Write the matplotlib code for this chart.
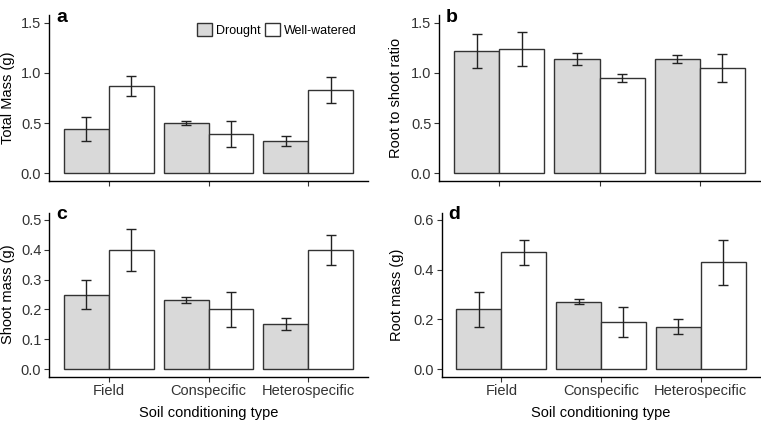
import numpy as np
import matplotlib
matplotlib.use("Agg")
import matplotlib.pyplot as plt
from matplotlib.patches import Patch

plt.rcParams['font.family'] = ['Liberation Sans', 'DejaVu Sans']

soil = ["Field", "Conspecific", "Heterospecific"]

# panel a: total mass
total_dr = [0.44, 0.50, 0.32]
total_dr_lo = [0.32, 0.48, 0.27]
total_dr_hi = [0.56, 0.52, 0.37]
total_ww = [0.87, 0.39, 0.83]
total_ww_lo = [0.77, 0.26, 0.70]
total_ww_hi = [0.97, 0.52, 0.96]

# panel b: root to shoot ratio
ratio_dr = [1.22, 1.14, 1.14]
ratio_dr_lo = [1.05, 1.08, 1.10]
ratio_dr_hi = [1.39, 1.20, 1.18]
ratio_ww = [1.24, 0.95, 1.05]
ratio_ww_lo = [1.07, 0.91, 0.91]
ratio_ww_hi = [1.41, 0.99, 1.19]

# panel c: shoot mass
shoot_dr = [0.25, 0.23, 0.15]
shoot_dr_lo = [0.20, 0.22, 0.13]
shoot_dr_hi = [0.30, 0.24, 0.17]
shoot_ww = [0.40, 0.20, 0.40]
shoot_ww_lo = [0.33, 0.14, 0.35]
shoot_ww_hi = [0.47, 0.26, 0.45]

# panel d: root mass
root_dr = [0.24, 0.27, 0.17]
root_dr_lo = [0.17, 0.26, 0.14]
root_dr_hi = [0.31, 0.28, 0.20]
root_ww = [0.47, 0.19, 0.43]
root_ww_lo = [0.42, 0.13, 0.34]
root_ww_hi = [0.52, 0.25, 0.52]

W, H = 761, 422
fig = plt.figure(figsize=(W / 100, H / 100), dpi=100)


def px_axes(l, r, t, b):
    return fig.add_axes([l / W, 1 - b / H, (r - l) / W, (b - t) / H])


edge = "#333333"
grey = "#d9d9d9"
fs = 10.5


def panel(ax, dr, dr_lo, dr_hi, ww, ww_lo, ww_hi, ymax, yticks, ylabel, letter, show_x, ylab_x):
    x = np.arange(1, len(soil) + 1)
    w = 0.45
    ax.bar(x - w / 2, dr, w, color=grey, edgecolor=edge, linewidth=1.0, zorder=2)
    ax.bar(x + w / 2, ww, w, color="white", edgecolor=edge, linewidth=1.0, zorder=2)
    dr, ww = np.array(dr), np.array(ww)
    ax.errorbar(x - w / 2, dr, yerr=[dr - np.array(dr_lo), np.array(dr_hi) - dr],
                fmt="none", ecolor="#222222", elinewidth=1.0, capsize=3.6, capthick=1.0, zorder=3)
    ax.errorbar(x + w / 2, ww, yerr=[ww - np.array(ww_lo), np.array(ww_hi) - ww],
                fmt="none", ecolor="#222222", elinewidth=1.0, capsize=3.6, capthick=1.0, zorder=3)
    ax.set_xlim(0.4, 3.6)
    pad = ymax * 0.05
    ax.set_ylim(-pad, ymax + pad)
    ax.set_yticks(yticks)
    ax.set_yticklabels([f"{v:.1f}" for v in yticks])
    ax.set_xticks(x)
    if show_x:
        ax.set_xticklabels(soil)
        ax.set_xlabel("Soil conditioning type", fontsize=fs, labelpad=6)
    else:
        ax.set_xticklabels([])
    ax.set_ylabel(ylabel, fontsize=fs, va="center")
    # place y label centre at a fixed pixel column
    l = ax.get_position().x0 * W
    wd = ax.get_position().width * W
    ax.yaxis.set_label_coords((ylab_x - l) / wd, 0.5)
    for s in ["top", "right"]:
        ax.spines[s].set_visible(False)
    for s in ["left", "bottom"]:
        ax.spines[s].set_linewidth(1.0)
        ax.spines[s].set_color("black")
    ax.tick_params(axis="both", length=3.5, width=0.8, color="#333333",
                   labelsize=fs, labelcolor="#333333", pad=2)
    ax.text(0.53, ymax * 1.035, letter, fontsize=14, fontweight="bold", ha="center", va="center")


ax_a = px_axes(49, 368, 15, 181)
panel(ax_a, total_dr, total_dr_lo, total_dr_hi, total_ww, total_ww_lo, total_ww_hi,
      1.5, [0.0, 0.5, 1.0, 1.5], "Total Mass (g)", "a", False, 8)
ax_b = px_axes(439, 760, 15, 181)
panel(ax_b, ratio_dr, ratio_dr_lo, ratio_dr_hi, ratio_ww, ratio_ww_lo, ratio_ww_hi,
      1.5, [0.0, 0.5, 1.0, 1.5], "Root to shoot ratio", "b", False, 396)
ax_c = px_axes(49, 368, 212.5, 376.5)
panel(ax_c, shoot_dr, shoot_dr_lo, shoot_dr_hi, shoot_ww, shoot_ww_lo, shoot_ww_hi,
      0.5, [0.0, 0.1, 0.2, 0.3, 0.4, 0.5], "Shoot mass (g)", "c", True, 8)
ax_d = px_axes(441.5, 760.5, 212.5, 376.5)
panel(ax_d, root_dr, root_dr_lo, root_dr_hi, root_ww, root_ww_lo, root_ww_hi,
      0.6, [0.0, 0.2, 0.4, 0.6], "Root mass (g)", "d", True, 397)

handles = [Patch(facecolor=grey, edgecolor=edge, linewidth=1.0, label="Drought"),
           Patch(facecolor="white", edgecolor=edge, linewidth=1.0, label="Well-watered")]
ax_a.legend(handles=handles, ncol=2, frameon=False, fontsize=9,
            handlelength=1.2, handleheight=1.2, handletextpad=0.35, columnspacing=0.3,
            loc="center left", bbox_to_anchor=(197 / W, 1 - 30 / H),
            bbox_transform=fig.transFigure, borderpad=0, borderaxespad=0)

fig.savefig("out.png", dpi=100)
